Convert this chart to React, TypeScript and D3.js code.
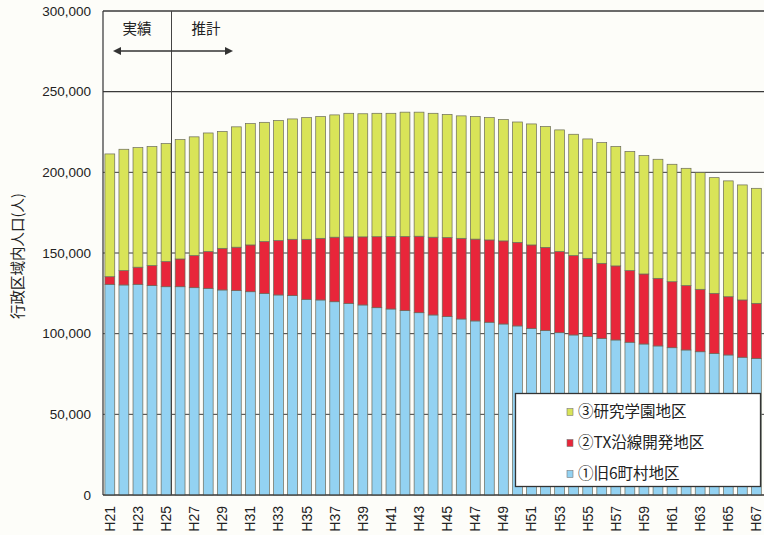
import React from "react";
import * as d3 from "d3";

// 年度ラベル H21〜H67
const years: string[] = Array.from({ length: 47 }, (_, i) => `H${21 + i}`);
const tickYears: string[] = years.filter((_, i) => i % 2 === 0);

// ①旧6町村地区 (人)
const kyu6: number[] = [
  130600, 130200, 130600, 129800, 129100, 129100, 128500, 128100, 127100, 126700,
  126000, 125000, 124000, 123600, 121300, 120900, 119800, 118800, 117800, 116100,
  115300, 114300, 113000, 111600, 110600, 109100, 107900, 107100, 106000, 104800,
  103300, 101900, 100600, 99200, 98200, 97100, 96100, 94700, 93600, 92400,
  91300, 89900, 88800, 87800, 86800, 85400, 84700,
];

// ②TX沿線開発地区 (人)
const txEnsen: number[] = [
  4700, 8900, 10600, 12400, 15600, 17200, 19900, 22800, 25800, 26900,
  29000, 32100, 33700, 34900, 37200, 38200, 40000, 41200, 42200, 44000,
  44900, 45900, 47400, 48200, 49000, 50000, 50700, 51000, 51500, 51800,
  51700, 51600, 50300, 49200, 48500, 46500, 45900, 44400, 43400, 41900,
  40900, 39900, 38700, 37200, 36100, 35500, 34100,
];

// ③研究学園地区 (人)
const kenkyu: number[] = [
  76100, 75200, 74100, 73800, 73100, 74000, 73600, 73500, 72400, 74600,
  75200, 73900, 74400, 74600, 75400, 75500, 75800, 76600, 76300, 76500,
  76400, 77100, 76900, 76800, 76300, 75900, 76000, 75800, 75200, 74600,
  75000, 74900, 75400, 75200, 74000, 74800, 74000, 73800, 73400, 73800,
  72800, 72700, 72300, 71700, 71800, 71300, 71300,
];

const yTicks: number[] = [0, 50000, 100000, 150000, 200000, 250000, 300000];

const seriesKeys = ["kyu6", "tx", "kenkyu"];
const seriesNames: Record<string, string> = {
  kyu6: "①旧6町村地区",
  tx: "②TX沿線開発地区",
  kenkyu: "③研究学園地区",
};
const colors: Record<string, string> = {
  kyu6: "#93d2f2",
  tx: "#e8263a",
  kenkyu: "#d9e458",
};

const W = 764;
const H = 535;
const FONT = "'Liberation Sans', Arial, 'Noto Sans CJK JP', sans-serif";
const JFONT = "'Noto Sans CJK JP', 'Liberation Sans', sans-serif";

export default function App() {
  const x = d3
    .scaleBand<string>()
    .domain(years)
    .range([103.5, 762.7])
    .paddingInner(0.3)
    .paddingOuter(0.1);

  const y = d3.scaleLinear().domain([0, 300000]).range([495, 11]);

  const rows = years.map((yr, i) => ({
    year: yr,
    kyu6: kyu6[i],
    tx: txEnsen[i],
    kenkyu: kenkyu[i],
  }));

  const stacked = d3.stack<any>().keys(seriesKeys)(rows);

  const left = 103;
  const right = W;
  const divider = 171.5;

  const legendItems = ["kenkyu", "tx", "kyu6"];

  return (
    <svg
      width={W}
      height={H}
      style={{ position: "absolute", left: 0, top: 0, background: "#fdfdf9" }}
      fontFamily={FONT}
    >
      {/* grid */}
      {yTicks.map((t) => (
        <line
          key={t}
          x1={left}
          x2={right}
          y1={y(t)}
          y2={y(t)}
          stroke="#3a3a3a"
          strokeWidth={t === 250000 || t === 300000 ? 1.4 : 1}
        />
      ))}

      {/* bars */}
      {stacked.map((s) => (
        <g key={s.key} fill={colors[s.key]}>
          {s.map((d, i) => (
            <rect
              key={i}
              x={x(years[i])}
              y={y(d[1])}
              width={x.bandwidth()}
              height={y(d[0]) - y(d[1])}
              stroke="#6a6a5a"
              strokeWidth={0.7}
            />
          ))}
        </g>
      ))}

      {/* axes frame */}
      <line x1={left} x2={left} y1={y(300000)} y2={y(0)} stroke="#333" strokeWidth={1.2} />
      <line x1={left} x2={right} y1={y(0)} y2={y(0)} stroke="#333" strokeWidth={1.2} />
      <line x1={divider} x2={divider} y1={y(300000)} y2={y(0)} stroke="#444" strokeWidth={1} />

      {/* y ticks */}
      {yTicks.map((t) => (
        <text
          key={t}
          x={91}
          y={y(t)}
          dy="0.35em"
          textAnchor="end"
          fontSize={13.5}
          fill="#222"
        >
          {d3.format(",")(t)}
        </text>
      ))}

      {/* x ticks */}
      {tickYears.map((yr) => (
        <text
          key={yr}
          transform={`translate(${(x(yr) ?? 0) + x.bandwidth() / 2},506) rotate(-90)`}
          dy="0.35em"
          textAnchor="end"
          fontSize={14}
          fill="#222"
        >
          {yr}
        </text>
      ))}

      {/* y title */}
      <text
        transform="translate(18,256) rotate(-90)"
        textAnchor="middle"
        dy="0.35em"
        fontSize={14.5}
        fontFamily={JFONT}
        fill="#222"
      >
        行政区域内人口(人)
      </text>

      {/* 実績 / 推計 */}
      <text x={137} y={29} dy="0.35em" textAnchor="middle" fontSize={14.5} fontFamily={JFONT} fill="#222">
        実績
      </text>
      <text x={206} y={29} dy="0.35em" textAnchor="middle" fontSize={14.5} fontFamily={JFONT} fill="#222">
        推計
      </text>
      <line x1={115} x2={231} y1={51} y2={51} stroke="#333" strokeWidth={1.6} />
      <path d="M113,51 L121,47 L121,55 Z" fill="#333" />
      <path d="M233,51 L225,47 L225,55 Z" fill="#333" />

      {/* legend */}
      <rect x={515.5} y={393.5} width={245} height={93} fill="#ffffff" stroke="#333" strokeWidth={1.3} />
      {legendItems.map((k, i) => (
        <g key={k} transform={`translate(0,${412 + i * 31})`}>
          <rect x={567} y={-3.5} width={6} height={7} fill={colors[k]} stroke="#777" strokeWidth={0.6} />
          <text x={578} y={0} dy="0.35em" fontSize={15.5} fontFamily={JFONT} fill="#222">
            {seriesNames[k]}
          </text>
        </g>
      ))}
    </svg>
  );
}
